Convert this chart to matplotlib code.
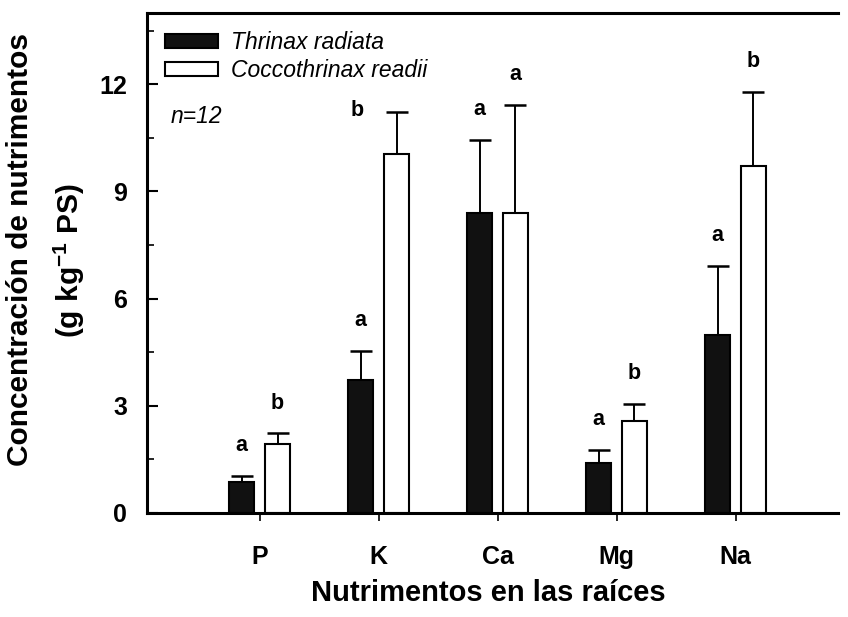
import numpy as np
import matplotlib.pyplot as plt
from matplotlib.ticker import MultipleLocator

plt.rcParams['font.family'] = ['Liberation Sans', 'DejaVu Sans']
plt.rcParams['mathtext.fontset'] = 'custom'
plt.rcParams['mathtext.rm'] = 'Liberation Sans:bold'
plt.rcParams['mathtext.default'] = 'rm'

# Concentracion en raices (g/kg PS), media y desviacion
nutrientes = ["P", "K", "Ca", "Mg", "Na"]
thrinax = [0.85, 3.73, 8.41, 1.40, 4.99]
thrinax_de = [0.19, 0.81, 2.03, 0.35, 1.93]
coccothrinax = [1.93, 10.06, 8.41, 2.57, 9.70]
coccothrinax_de = [0.29, 1.16, 3.01, 0.47, 2.08]
letras_thrinax = ["a", "a", "a", "a", "a"]
letras_coccothrinax = ["b", "b", "a", "b", "b"]

x = np.arange(1, len(nutrientes) + 1)
ancho = 0.21
dx = 0.15

fig = plt.figure(figsize=(8.48, 6.17), dpi=100)
ax = fig.add_axes([0.173, 0.169, 0.815, 0.81])

ax.bar(x - dx, thrinax, ancho, color="#111111", edgecolor="black",
       linewidth=1.5, label="Thrinax radiata", zorder=2)
ax.bar(x + dx, coccothrinax, ancho, color="white", edgecolor="black",
       linewidth=1.5, label="Coccothrinax readii", zorder=2)

ax.errorbar(x - dx, thrinax, yerr=[np.zeros(5), thrinax_de], fmt="none",
            ecolor="black", elinewidth=1.4, capsize=8, capthick=1.8, zorder=1)
ax.errorbar(x + dx, coccothrinax, yerr=[np.zeros(5), coccothrinax_de], fmt="none",
            ecolor="black", elinewidth=1.4, capsize=8, capthick=1.8, zorder=1)

# letras de significancia sobre las barras
for i in range(len(x)):
    y1 = thrinax[i] + thrinax_de[i] + 0.85
    ax.text(x[i] - dx, y1, letras_thrinax[i], ha="center", va="center",
            fontsize=15.5, fontweight="bold")
    y2 = coccothrinax[i] + coccothrinax_de[i] + 0.85
    x2 = x[i] + dx
    if nutrientes[i] == "K":
        # la letra de K quedo corrida a la izquierda
        x2 = x[i] - 0.18
        y2 = coccothrinax[i] + coccothrinax_de[i] + 0.05
    ax.text(x2, y2, letras_coccothrinax[i], ha="center", va="center",
            fontsize=15.5, fontweight="bold")

ax.text(0.25, 11.1, "n=12", fontsize=16.5, fontstyle="italic", va="center")

ax.set_xlim(0.05, 5.86)
ax.set_ylim(0, 14)
ax.set_xticks(x)
ax.set_xticklabels(nutrientes, fontsize=18, fontweight="bold")
ax.yaxis.set_major_locator(MultipleLocator(3))
ax.yaxis.set_minor_locator(MultipleLocator(1.5))
for lab in ax.get_yticklabels():
    lab.set_fontweight("bold")
ax.tick_params(axis="y", which="major", direction="in", length=8, width=1.5,
               labelsize=18, pad=14)
ax.tick_params(axis="y", which="minor", direction="in", length=5, width=1.2)
ax.tick_params(axis="x", direction="out", length=6, width=1.2, pad=17)

for s in ["left", "bottom", "top"]:
    ax.spines[s].set_linewidth(2.2)
ax.spines["right"].set_visible(False)

ax.legend(loc="upper left", frameon=False, prop={"style": "italic", "size": 16.5},
          handlelength=2.3, handleheight=0.6, handletextpad=0.6,
          labelspacing=0.2, borderaxespad=0.4, bbox_to_anchor=(0.0, 1.0))

fig.text(20 / 848, 1 - 250 / 617, "Concentración de nutrimentos", rotation=90,
         ha="center", va="center", fontsize=21.5, fontweight="bold")
fig.text(69 / 848, 1 - 261 / 617, "(g kg$^{-1}$ PS)", rotation=90,
         ha="center", va="center", fontsize=21.5, fontweight="bold")
fig.text(488 / 848, 1 - 593 / 617, "Nutrimentos en las raíces",
         ha="center", va="center", fontsize=21, fontweight="bold")

fig.savefig("out.png", dpi=100)
